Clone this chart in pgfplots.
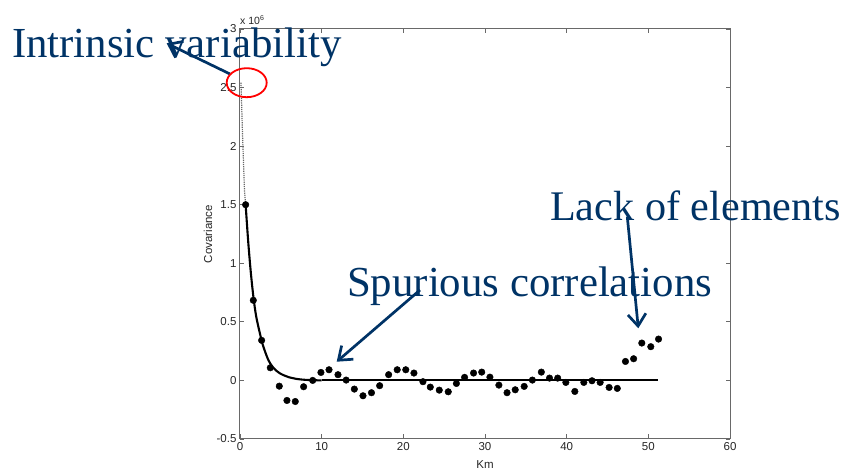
\documentclass[border=0pt]{standalone}
\usepackage{fontspec}
\setmainfont{Liberation Sans}
\newfontfamily\tnr{Liberation Serif}
\usepackage{pgfplots}
\pgfplotsset{compat=1.18}
\usetikzlibrary{arrows.meta}
\definecolor{navy}{RGB}{0,51,102}
\definecolor{axgray}{RGB}{105,105,105}
\begin{document}
\begin{tikzpicture}
\useasboundingbox (-240pt,-31pt) rectangle (604pt,439pt);
\begin{axis}[
  at={(0pt,0pt)}, anchor=south west,
  scale only axis, width=490pt, height=410pt,
  xmin=0, xmax=60, ymin=-0.5, ymax=3,
  xtick={0,10,...,60}, ytick={-0.5,0,0.5,1,1.5,2,2.5,3},
  tick align=inside, major tick length=4.5pt,
  axis line style={axgray, line width=1pt},
  every tick/.style={axgray, line width=0.8pt},
  tick label style={font=\fontsize{11.5}{13}\selectfont, text=black!85},
  /pgf/number format/assume math mode=true,
  scaled y ticks=false,
  xlabel={Km}, ylabel={Covariance},
  label style={font=\fontsize{11.5}{13}\selectfont, text=black!85},
  xlabel style={at={(axis description cs:0.5,-0.0634)}, anchor=center},
  ylabel style={at={(axis description cs:-0.0653,0.5)}, anchor=center},
  clip=false,
]
% dotted extrapolation to the origin
\addplot[black!60, densely dotted, line width=1.2pt] coordinates {
  (0.69,1.5) (0.55,1.62) (0.42,1.88) (0.3,2.12) (0.2,2.36) (0.12,2.55)
};
% fitted model
\addplot[black, line width=2.1pt, smooth] coordinates {
  (0.69,1.5) (1.0,1.19) (1.3,0.94) (1.63,0.72) (2.0,0.54) (2.65,0.34)
  (3.0,0.26) (3.5,0.17) (4.0,0.115) (4.5,0.08) (5.0,0.056) (5.5,0.04)
  (6.0,0.027) (7.0,0.012) (8.0,0.005) (9.0,0.002) (10.0,0.0)
};
\addplot[black, line width=2.1pt] coordinates {(10.0,0.0) (51.2,0.0)};
% experimental covariance
\addplot[only marks, mark=*, mark size=3.3pt, black] coordinates {
  (0.69,1.5) (1.63,0.684) (2.65,0.342) (3.71,0.108) (4.81,-0.049)
  (5.75,-0.171) (6.77,-0.18) (7.79,-0.054) (8.9,0.0) (9.91,0.068)
  (10.9,0.091) (12.0,0.049) (13.0,0.003) (14.0,-0.074) (15.06,-0.131)
  (16.1,-0.105) (17.1,-0.045) (18.2,0.049) (19.25,0.091) (20.3,0.091)
  (21.3,0.063) (22.4,-0.011) (23.3,-0.057) (24.4,-0.083) (25.5,-0.097)
  (26.5,-0.026) (27.5,0.026) (28.6,0.063) (29.6,0.071) (30.6,0.028)
  (31.7,-0.04) (32.7,-0.105) (33.7,-0.08) (34.8,-0.051) (35.8,0.003)
  (36.9,0.071) (37.9,0.02) (38.9,0.02) (39.9,-0.017) (41.0,-0.094)
  (42.1,-0.017) (43.1,-0.003) (44.1,-0.017) (45.2,-0.06) (46.2,-0.068)
  (47.2,0.162) (48.2,0.185) (49.2,0.319) (50.3,0.288) (51.25,0.353)
};
\node[anchor=south west, inner sep=0pt, font=\fontsize{10.5}{12}\selectfont, text=black!85]
  at (rel axis cs:0,1) [yshift=4pt] {x 10\raisebox{0.8ex}{\fontsize{7}{8}\selectfont 6}};
\end{axis}
% annotations
\node[anchor=base west, inner sep=0pt, text=navy, font=\tnr\fontsize{42.8}{50}\selectfont]
  at (-228pt,381.7pt) {Intrinsic variability};
\draw[navy, line width=2.7pt, -{Straight Barb[length=12pt, width=18pt, line width=2.7pt]}]
  (-10pt,365pt) -- (-73.3pt,395.7pt);
\draw[red, line width=1.8pt] (6.7pt,356.3pt) ellipse [x radius=20pt, y radius=14.5pt];
\node[anchor=base west, inner sep=0pt, text=navy, font=\tnr\fontsize{42.8}{50}\selectfont]
  at (107pt,142.5pt) {Spurious correlations};
\draw[navy, line width=2.7pt, -{Straight Barb[length=12pt, width=18pt, line width=2.7pt]}]
  (180pt,149pt) -- (96.7pt,77.3pt);
\node[anchor=base west, inner sep=0pt, text=navy, font=\tnr\fontsize{42.2}{50}\selectfont]
  at (310pt,218pt) {Lack of elements};
\draw[navy, line width=2.7pt, -{Straight Barb[length=12pt, width=18pt, line width=2.7pt]}]
  (387.3pt,222.3pt) -- (398.3pt,110.7pt);
\end{tikzpicture}
\end{document}
